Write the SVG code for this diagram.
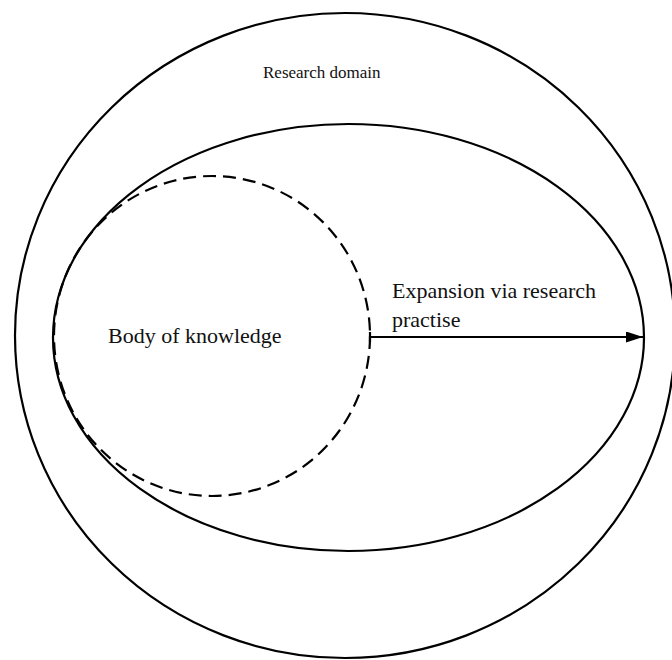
<svg xmlns="http://www.w3.org/2000/svg" width="672" height="660" viewBox="0 0 672 660">
  <style>
    .ring { fill: none; stroke: #000; stroke-width: 2.2; }
    .dash { fill: none; stroke: #000; stroke-width: 2.2; stroke-dasharray: 13 7; }
    .lbl { font-family: "Liberation Serif", "Times New Roman", serif; font-size: 22px; fill: #111; }
    .lbl-sm { font-size: 17px; }
    .conn { stroke: #000; stroke-width: 2.2; fill: none; }
  </style>
  <defs>
    <marker id="head" viewBox="0 0 17 11" refX="17" refY="5.5" markerWidth="17" markerHeight="11" markerUnits="userSpaceOnUse" orient="auto">
      <path d="M0,0 L17,5.5 L0,11 Z" fill="#000"/>
    </marker>
  </defs>
  <rect width="672" height="660" fill="#fff"/>

  <g id="research-domain">
    <ellipse class="ring" cx="345" cy="335.5" rx="330" ry="322.5"/>
    <text class="lbl lbl-sm" x="263" y="78">Research domain</text>
  </g>

  <g id="expanded-knowledge">
    <ellipse class="ring" cx="348.5" cy="337.5" rx="295.5" ry="213.5"/>
  </g>

  <g id="body-of-knowledge">
    <ellipse class="dash" cx="212" cy="336" rx="158" ry="160"/>
    <text class="lbl" x="108" y="343">Body of knowledge</text>
  </g>

  <g id="connectors">
    <line class="conn" x1="370" y1="332" x2="370" y2="342"/>
    <line class="conn" x1="370" y1="337" x2="643" y2="337" marker-end="url(#head)"/>
    <text class="lbl" x="392" y="298">Expansion via research</text>
    <text class="lbl" x="392" y="327">practise</text>
  </g>
</svg>
